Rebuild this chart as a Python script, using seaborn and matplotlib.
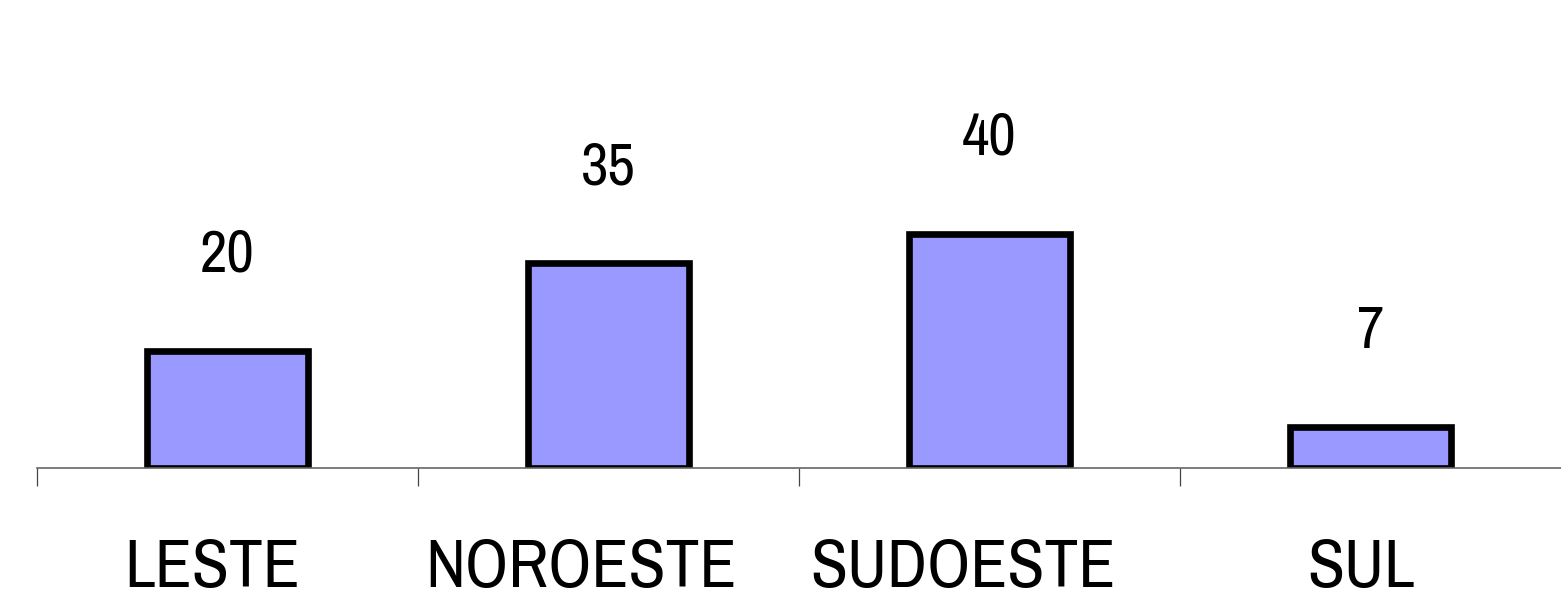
import matplotlib
matplotlib.use("Agg")
import matplotlib.pyplot as plt
import matplotlib.transforms as mtransforms
from matplotlib import font_manager
import seaborn as sns
import pandas as pd

regioes = ["LESTE", "NOROESTE", "SUDOESTE", "SUL"]
quantidades = [20, 35, 40, 7]

sns.set_theme(style="white")
installed = {f.name for f in font_manager.fontManager.ttflist}
preferred = ["Liberation Sans Narrow", "Arial Narrow", "Pragati Narrow",
             "Archivo Narrow", "Roboto Condensed", "PT Sans Narrow"]
family = next((f for f in preferred if f in installed), "DejaVu Sans")
plt.rcParams["font.family"] = [family, "DejaVu Sans"]

df = pd.DataFrame({"regiao": regioes, "qtd": quantidades})

fig = plt.figure(figsize=(15.61, 6.02), dpi=100)
ax = fig.add_axes([37 / 1561, 134 / 602, 1 - 37 / 1561, 468 / 602])

sns.barplot(data=df, x="regiao", y="qtd", color="#9999FF", saturation=1,
            edgecolor="black", linewidth=4.8, width=0.42, ax=ax)

# value labels floating well above each bar
for i, v in enumerate(quantidades):
    ax.annotate(str(v), (i, v), xytext=(0, 57), textcoords="offset points",
                ha="center", va="baseline", fontsize=47, color="black")

ax.set_xlim(-0.5, 3.5)
ax.set_ylim(0, 80)
ax.set_xlabel("")
ax.set_ylabel("")
ax.set_yticks([])
for s in ["top", "right", "left"]:
    ax.spines[s].set_visible(False)
ax.spines["bottom"].set_color("#666666")
ax.spines["bottom"].set_linewidth(1.2)

# category separators below the baseline
ax.set_xticks([-0.5, 0.5, 1.5, 2.5], minor=True)
ax.tick_params(axis="x", which="minor", length=13, width=0.9, color="#444444",
               bottom=True, direction="out")
ax.tick_params(axis="x", which="major", length=0, pad=50, labelsize=53,
               labelcolor="black")

# category names sit slightly left of the bar centres
fig.canvas.draw()
renderer = fig.canvas.get_renderer()
for lab in ax.get_xticklabels():
    w = lab.get_window_extent(renderer).width
    shift = mtransforms.ScaledTranslation(-0.088 * w / fig.dpi, 0, fig.dpi_scale_trans)
    lab.set_transform(lab.get_transform() + shift)

fig.savefig("out.png", dpi=100)
